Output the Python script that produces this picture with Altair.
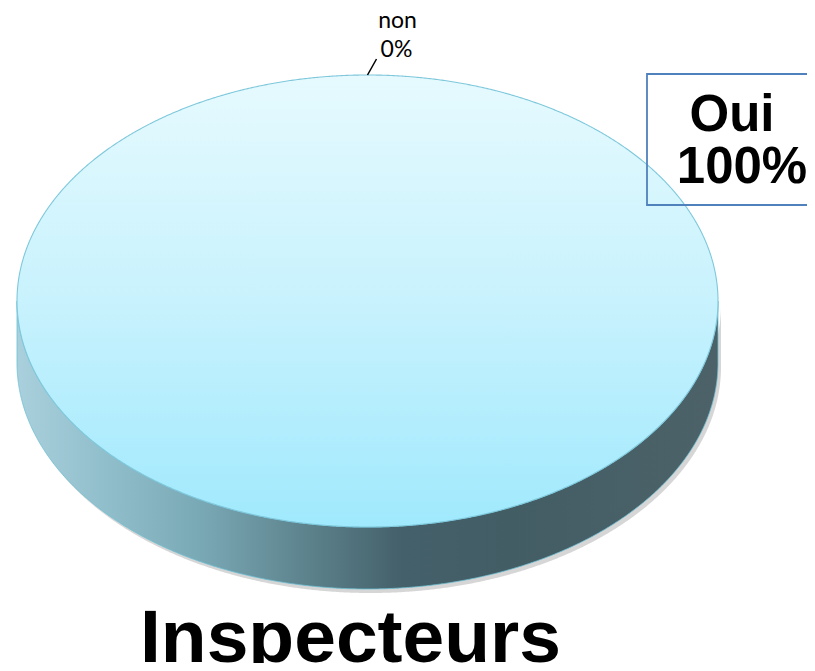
import altair as alt
import numpy as np
import pandas as pd

# ---- data ----
categories = ["Oui", "non"]
values = [100, 0]
chart_title = "Inspecteurs"

# ---- layout (plot-area pixel space) ----
W, H = 799, 655
CX, CY, A, B, D = 359.5, 293.0, 350.5, 226.0, 62.0

total = float(sum(values))
spans = [v / total * 360.0 for v in values]
starts = list(np.cumsum([0.0] + spans[:-1]))

# geometry of the pie faces derived from slice spans
t = np.linspace(0, np.pi, 721)
xs = CX - A * np.cos(t)
s = np.sin(t)
top_rows, side_rows, shadow_rows = [], [], []
for cat, st, sp in zip(categories, starts, spans):
    if sp >= 360.0:
        for x, si in zip(xs, s):
            top_rows.append({"cat": cat, "x": x, "y": CY - B * si, "y2": CY + B * si})
            side_rows.append({"cat": cat, "x": x, "y": CY + B * si, "y2": CY + B * si + D})
            shadow_rows.append({"cat": cat, "x": x + 3, "y": CY + B * si + 4, "y2": CY + B * si + D + 4})
top_df = pd.DataFrame(top_rows)
side_df = pd.DataFrame(side_rows)
shadow_df = pd.DataFrame(shadow_rows)

# labels
small_rows, lead_rows, big_rows = [], [], []
for cat, st, sp, v in zip(categories, starts, spans, values):
    if sp < 360:
        m = np.radians((st + sp / 2.0) % 360.0)
        ex = CX + A * np.sin(m)
        ey = CY - B * np.cos(m)
        lead_rows.append({"x": ex, "y": ey, "x2": ex + 9, "y2": ey - 16})
        small_rows.append({"x": ex + 30, "y": ey - 47, "t": cat})
        small_rows.append({"x": ex + 29, "y": ey - 18, "t": f"{v:g}%"})
    else:
        big_rows.append({"x": 724, "y": 123, "t": cat})
        big_rows.append({"x": 734, "y": 175, "t": f"{v:g}%"})
lead_df = pd.DataFrame(lead_rows)
small_df = pd.DataFrame(small_rows)
big_df = pd.DataFrame(big_rows)
box_df = pd.DataFrame([{"x": 639, "x2": 840, "y": 66, "y2": 197}])
title_df = pd.DataFrame([{"x": 342.5, "y": 654, "t": chart_title}])

xs_ = alt.Scale(domain=[0, W])
ys_ = alt.Scale(domain=[0, H], reverse=True)
X = lambda f="x": alt.X(f"{f}:Q", scale=xs_, axis=None)
Y = lambda f="y": alt.Y(f"{f}:Q", scale=ys_, axis=None)

top_grad = alt.Gradient(
    gradient="linear", x1=0, y1=0, x2=0, y2=1,
    stops=[alt.GradientStop(color="#e6fafe", offset=0),
           alt.GradientStop(color="#c8f2fd", offset=0.5),
           alt.GradientStop(color="#a0e9fd", offset=1)],
)
side_grad = alt.Gradient(
    gradient="linear", x1=0, y1=0, x2=1, y2=0,
    stops=[alt.GradientStop(color="#a9d0dc", offset=0),
           alt.GradientStop(color="#92bfcc", offset=0.12),
           alt.GradientStop(color="#7aa9b6", offset=0.26),
           alt.GradientStop(color="#5f8690", offset=0.40),
           alt.GradientStop(color="#44606a", offset=0.55),
           alt.GradientStop(color="#435d65", offset=0.70),
           alt.GradientStop(color="#4c6268", offset=1)],
)

shadow = alt.Chart(shadow_df).mark_area(color="#8a8a8a", opacity=0.35).encode(
    x=X(), y=Y(), y2="y2:Q")
side = alt.Chart(side_df).mark_area(color=side_grad, stroke="#6cc0d4", strokeWidth=0.8).encode(
    x=X(), y=Y(), y2="y2:Q")
top = alt.Chart(top_df).mark_area(color=top_grad, stroke="#7fc8dc", strokeWidth=1.1).encode(
    x=X(), y=Y(), y2="y2:Q")

lead = alt.Chart(lead_df).mark_rule(color="#000000", strokeWidth=1.5).encode(
    x=X(), y=Y(), x2="x2:Q", y2="y2:Q")
small = alt.Chart(small_df).mark_text(font="Lato", fontSize=23, color="#000000",
                                      align="center", baseline="alphabetic").encode(
    x=X(), y=Y(), text="t:N")
box = alt.Chart(box_df).mark_rect(fillOpacity=0, fill="#ffffff", stroke="#4f81bd",
                                  strokeWidth=1.8).encode(
    x=X(), x2="x2:Q", y=Y(), y2="y2:Q")
big = alt.Chart(big_df).mark_text(font="Liberation Sans", fontSize=51, fontWeight="bold",
                                  color="#000000", align="center", baseline="alphabetic").encode(
    x=X(), y=Y(), text="t:N")
title = alt.Chart(title_df).mark_text(font="Liberation Sans", fontSize=75, fontWeight="bold",
                                      color="#000000", align="center", baseline="alphabetic").encode(
    x=X(), y=Y(), text="t:N")

chart = alt.layer(shadow, side, top, lead, small, box, big, title).properties(
    width=W, height=H, padding=0, autosize=alt.AutoSizeParams(type="none")
).configure_view(stroke=None)

chart.save("out.html", embed_options={"renderer": "svg", "actions": False})
